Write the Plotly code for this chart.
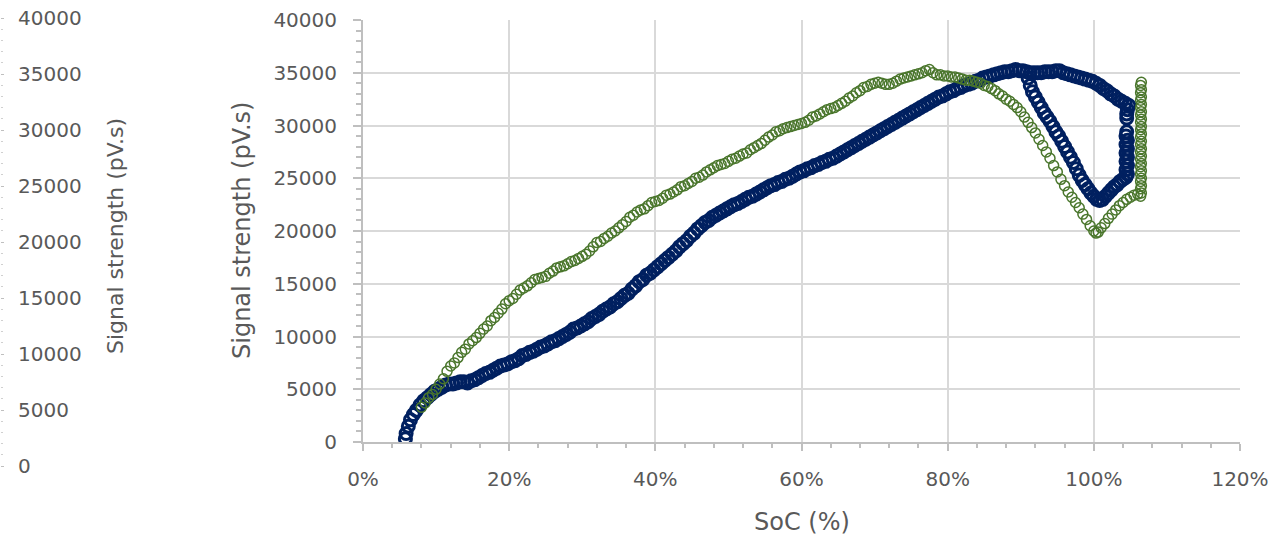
import plotly.graph_objects as go

# ---------------- data ----------------
green_rise_soc = [8.0, 8.5, 9.0, 9.5, 10.0, 10.5, 11.0, 11.5, 12.0, 12.5, 13.0, 13.5, 14.0, 14.5, 15.0, 15.5,
                  16.0, 16.5, 17.0, 17.5, 18.0, 18.5, 19.0, 19.5, 20.0, 20.5, 21.0, 21.5, 22.0, 22.5, 23.0, 23.5,
                  24.0, 24.5, 25.0, 25.5, 26.0, 26.5, 27.0, 27.5, 28.0, 28.5, 29.0, 29.5, 30.0, 30.5, 31.0, 31.5,
                  32.0, 32.5, 33.0, 33.5, 34.0, 34.5, 35.0, 35.5, 36.0, 36.5, 37.0, 37.5, 38.0, 38.5, 39.0, 39.5,
                  40.0, 40.5, 41.0, 41.5, 42.0, 42.5, 43.0, 43.5, 44.0, 44.5, 45.0, 45.5, 46.0, 46.5, 47.0, 47.5,
                  48.0, 48.5, 49.0, 49.5, 50.0, 50.5, 51.0, 51.5, 52.0, 52.5, 53.0, 53.5, 54.0, 54.5, 55.0, 55.5,
                  56.0, 56.5, 57.0, 57.5, 58.0, 58.5, 59.0, 59.5, 60.0, 60.5, 61.0, 61.5, 62.0, 62.5, 63.0, 63.5,
                  64.0, 64.5, 65.0, 65.5, 66.0, 66.5, 67.0, 67.5, 68.0, 68.5, 69.0, 69.5, 70.0, 70.5, 71.0, 71.5,
                  72.0, 72.5, 73.0, 73.5, 74.0, 74.5, 75.0, 75.5, 76.0, 76.5, 77.0]
green_rise_sig = [3300, 3700, 4200, 4500, 5000, 5500, 6000, 6700, 7200, 7500, 8000, 8500, 8800, 9300, 9600, 9900,
                  10300, 10700, 11000, 11500, 11800, 12200, 12600, 13100, 13400, 13600, 14000, 14400, 14600, 14800, 15100, 15400,
                  15500, 15600, 15700, 16000, 16200, 16500, 16600, 16700, 16900, 17100, 17200, 17400, 17600, 17800, 18100, 18500,
                  18900, 19000, 19300, 19500, 19800, 20000, 20300, 20600, 20900, 21300, 21500, 21800, 22000, 22100, 22400, 22700,
                  22800, 22900, 23100, 23400, 23500, 23700, 23900, 24200, 24300, 24500, 24700, 25000, 25100, 25300, 25600, 25800,
                  26000, 26200, 26300, 26400, 26600, 26800, 26900, 27100, 27300, 27400, 27700, 27900, 28100, 28300, 28600, 28900,
                  29100, 29400, 29500, 29700, 29800, 29900, 30000, 30100, 30200, 30300, 30500, 30800, 30900, 31100, 31300, 31500,
                  31600, 31700, 31900, 32100, 32300, 32600, 32800, 33100, 33300, 33600, 33700, 33900, 34000, 34100, 34000, 33900,
                  33900, 34000, 34200, 34400, 34500, 34600, 34700, 34800, 34900, 35000, 35200]

green_fall_soc = [77.5, 78.0, 78.5, 79.0, 79.5, 80.0, 80.5, 81.0, 81.5, 82.0, 82.5, 83.0, 83.5, 84.0, 84.5, 85.0,
                  85.5, 86.0, 86.5, 87.0, 87.5, 88.0, 88.5, 89.0, 89.5, 90.0, 90.5, 91.0, 91.5, 92.0, 92.5, 93.0,
                  93.5, 94.0, 94.5, 95.0, 95.5, 96.0, 96.5, 97.0, 97.5, 98.0, 98.5, 99.0, 99.5, 100.0, 100.3, 100.6,
                  101.0, 101.5, 102.0, 102.5, 103.0, 103.5, 104.0, 104.5, 105.0, 105.5, 106.0]
green_fall_sig = [35300, 35000, 34800, 34800, 34700, 34700, 34600, 34600, 34500, 34400, 34300, 34300, 34200, 34100, 34000, 33800,
                  33700, 33500, 33300, 33000, 32800, 32500, 32300, 32000, 31700, 31300, 30800, 30300, 29800, 29300, 28700, 28100,
                  27500, 26900, 26200, 25600, 24900, 24300, 23700, 23200, 22700, 22200, 21600, 21100, 20500, 20000, 19800, 19900,
                  20300, 20700, 21200, 21600, 22000, 22400, 22700, 23000, 23200, 23400, 23500]

green_top_soc = [106.4, 106.5, 106.4, 106.5, 106.4, 106.5, 106.4, 106.5, 106.4, 106.5, 106.4, 106.5, 106.4, 106.5, 106.4, 106.5,
                 106.4, 106.5, 106.4, 106.5, 106.4, 106.5, 106.4, 106.5, 106.4, 106.5, 106.4, 106.5, 106.4, 106.5, 106.4, 106.5]
green_top_sig = [23300, 23600, 24000, 24300, 24700, 25000, 25400, 25700, 26100, 26400, 26800, 27100, 27500, 27800, 28200, 28500,
                 28900, 29200, 29600, 29900, 30300, 30600, 31000, 31300, 31700, 32000, 32400, 32700, 33100, 33400, 33800, 34100]

navy_rise_soc = [5.8, 5.9, 6.2, 6.5, 6.9, 7.3, 7.8, 8.3, 8.8, 9.3, 9.8, 10.3, 10.8, 11.3, 11.8, 12.3, 12.8, 13.3, 13.8,
                 14.3, 14.8, 15.3, 15.8, 16.3, 16.8, 17.3, 17.8, 18.3, 18.8, 19.3, 19.8, 20.3, 20.8, 21.3, 21.8, 22.3,
                 22.8, 23.3, 23.8, 24.3, 24.8, 25.3, 25.8, 26.3, 26.8, 27.3, 27.8, 28.3, 28.8, 29.3, 29.8, 30.3, 30.8,
                 31.3, 31.8, 32.3, 32.8, 33.3, 33.8, 34.3, 34.8, 35.3, 35.8, 36.3, 36.8, 37.3, 37.8, 38.3, 38.8, 39.3,
                 39.8, 40.3, 40.8, 41.3, 41.8, 42.3, 42.8, 43.3, 43.8, 44.3, 44.8, 45.3, 45.8, 46.3, 46.8, 47.3, 47.8,
                 48.3, 48.8, 49.3, 49.8, 50.3, 50.8, 51.3, 51.8, 52.3, 52.8, 53.3, 53.8, 54.3, 54.8, 55.3, 55.8, 56.3,
                 56.8, 57.3, 57.8, 58.3, 58.8, 59.3, 59.8, 60.3, 60.8, 61.3, 61.8, 62.3, 62.8, 63.3, 63.8, 64.3, 64.8,
                 65.3, 65.8, 66.3, 66.8, 67.3, 67.8, 68.3, 68.8, 69.3, 69.8, 70.3, 70.8, 71.3, 71.8, 72.3, 72.8, 73.3,
                 73.8, 74.3, 74.8, 75.3, 75.8, 76.3, 76.8, 77.3, 77.8, 78.3, 78.8, 79.3, 79.8, 80.3, 80.8, 81.3, 81.8,
                 82.3, 82.8, 83.3, 83.8, 84.3, 84.8, 85.3, 85.8, 86.3, 86.8, 87.3, 87.8, 88.3, 88.8, 89.3, 89.8, 90.3,
                 90.8, 91.3, 91.8, 92.3, 92.8, 93.3, 93.8, 94.3, 94.8, 95.3, 95.8, 96.3, 96.8, 97.3, 97.8, 98.3, 98.8,
                 99.3, 99.8, 100.3, 100.8, 101.3, 101.8, 102.3, 102.8, 103.3, 103.8, 104.3, 104.8]
navy_rise_sig = [300, 800, 1500, 2100, 2600, 3000, 3500, 3900, 4200, 4500, 4800, 5000, 5200, 5400, 5500, 5500, 5600, 5700, 5700,
                 5600, 5800, 5900, 6100, 6300, 6500, 6600, 6800, 7000, 7200, 7300, 7400, 7600, 7700, 7900, 8200, 8300,
                 8500, 8600, 8800, 9000, 9100, 9300, 9500, 9600, 9800, 10000, 10200, 10400, 10700, 10800, 11000, 11200, 11400,
                 11700, 11900, 12100, 12400, 12600, 12800, 13100, 13300, 13600, 13900, 14100, 14500, 14800, 15200, 15400, 15800, 16000,
                 16300, 16600, 16900, 17200, 17500, 17800, 18100, 18500, 18800, 19100, 19500, 19800, 20200, 20500, 20800, 21000, 21300,
                 21500, 21700, 21900, 22100, 22300, 22500, 22600, 22800, 23000, 23200, 23300, 23500, 23700, 23900, 24100, 24300, 24400,
                 24600, 24700, 24900, 25000, 25200, 25400, 25600, 25700, 25900, 26000, 26200, 26300, 26500, 26600, 26800, 26900, 27100,
                 27300, 27500, 27700, 27900, 28100, 28300, 28500, 28700, 28900, 29100, 29300, 29500, 29700, 29900, 30100, 30300, 30500,
                 30700, 30900, 31100, 31300, 31500, 31700, 31900, 32100, 32300, 32500, 32700, 32800, 33000, 33200, 33300, 33500, 33600,
                 33800, 33900, 34000, 34200, 34300, 34500, 34600, 34700, 34800, 34900, 35000, 35100, 35100, 35200, 35300, 35200, 35200,
                 35100, 35000, 35000, 35000, 35000, 35100, 35100, 35100, 35200, 35200, 35000, 34900, 34800, 34700, 34600, 34500, 34400,
                 34300, 34200, 34000, 33800, 33500, 33300, 33000, 32800, 32500, 32300, 32100, 31900]

navy_drop_soc = [104.6, 104.5, 104.5, 104.5, 104.4, 104.6, 104.4, 104.6, 104.4, 104.6, 104.4, 104.6, 104.4, 104.6]
navy_drop_sig = [31500, 31100, 30700, 29400, 29000, 28600, 28200, 27800, 27400, 27000, 26600, 26200, 25800, 25400]

navy_dip_soc = [91.0, 91.3, 91.6, 92.0, 92.4, 92.8, 93.2, 93.6, 94.0, 94.4, 94.8, 95.2, 95.6, 96.0, 96.4, 96.8, 97.2, 97.6,
                98.0, 98.4, 98.8, 99.2, 99.6, 100.0, 100.4, 100.8, 101.2, 101.6, 102.0, 102.4, 102.8, 103.2, 103.6, 104.0, 104.4]
navy_dip_sig = [34500, 33800, 33200, 32700, 32200, 31700, 31200, 30800, 30400, 29900, 29400, 29000, 28500, 28000, 27500, 27000,
                26500, 25900, 25300, 24800, 24400, 24000, 23600, 23300, 23000, 22900, 23000, 23300, 23600, 23900, 24200, 24400,
                24700, 24900, 25100]

y_ticks = [0, 5000, 10000, 15000, 20000, 25000, 30000, 35000, 40000]
y_tick_text = ["0", "5000", "10000", "15000", "20000", "25000", "30000", "35000", "40000"]
x_ticks = [0, 20, 40, 60, 80, 100, 120]
x_tick_text = ["0%", "20%", "40%", "60%", "80%", "100%", "120%"]
y_title = "Signal strength (pV.s)"
x_title = "SoC (%)"

# ---------------- styling ----------------
NAVY = "#002060"
GREEN = "#4A762C"
TXT = "#595959"
GRID = "#d9d9d9"
AXL = "#bfbfbf"
FONT = "DejaVu Sans"

W, H = 1274, 539
ML, MR, MT, MB = 0, 34, 18, 73
PW, PH = W - ML - MR, H - MT - MB


def px_x(px):
    return (px - ML) / PW


def px_y(py):
    return (H - MB - py) / PH


navy_x = navy_rise_soc + navy_drop_soc + navy_dip_soc
navy_y = navy_rise_sig + navy_drop_sig + navy_dip_sig
green_x = green_rise_soc + green_fall_soc + green_top_soc
green_y = green_rise_sig + green_fall_sig + green_top_sig

fig = go.Figure()
fig.add_trace(go.Scatter(
    x=navy_x, y=navy_y, mode="markers", showlegend=False,
    marker=dict(symbol="circle-open", size=12, color=NAVY, line=dict(width=3, color=NAVY)),
))
fig.add_trace(go.Scatter(
    x=green_x, y=green_y, mode="markers", showlegend=False,
    marker=dict(symbol="circle-open", size=10, color=GREEN, line=dict(width=1.5, color=GREEN)),
))
# stray left axis (empty companion trace)
fig.add_trace(go.Scatter(x=[None], y=[None], xaxis="x2", yaxis="y2", showlegend=False, hoverinfo="skip"))

fig.update_layout(
    width=W, height=H,
    margin=dict(l=ML, r=MR, t=MT, b=MB, pad=0, autoexpand=False),
    paper_bgcolor="white", plot_bgcolor="white",
    font=dict(family=FONT, color=TXT, size=20),
    xaxis=dict(
        domain=[px_x(363), 1.0], range=[0, 120], tickvals=x_ticks, ticktext=x_tick_text,
        showgrid=True, gridcolor=GRID, gridwidth=2, zeroline=False,
        showline=True, linecolor=AXL, linewidth=2,
        ticks="outside", ticklen=7, tickwidth=1.5, tickcolor=AXL, ticklabelstandoff=11,
        minor=dict(ticks="outside", dtick=4, tick0=0, ticklen=4, tickwidth=1.5, tickcolor=AXL, showgrid=False),
        tickfont=dict(size=20, color=TXT, family=FONT), anchor="y", automargin=False,
    ),
    yaxis=dict(
        domain=[px_y(442), px_y(20)], range=[0, 40000], tickvals=y_ticks, ticktext=y_tick_text,
        showgrid=True, gridcolor=GRID, gridwidth=2, zeroline=False,
        showline=True, linecolor=AXL, linewidth=2,
        ticks="outside", ticklen=8, tickwidth=1.5, tickcolor=AXL, ticklabelstandoff=12,
        minor=dict(ticks="outside", dtick=1000, tick0=0, ticklen=5, tickwidth=1.5, tickcolor=AXL, showgrid=False),
        tickfont=dict(size=20, color=TXT, family=FONT), anchor="x", automargin=False,
    ),
    xaxis2=dict(domain=[0, 0.05], range=[0, 1], visible=False, anchor="y2"),
    yaxis2=dict(
        domain=[0, 1], range=[0, 40000], tickvals=y_ticks, ticktext=y_tick_text,
        anchor="free", position=0, side="right", automargin=False,
        showgrid=False, zeroline=False, showline=False,
        ticks="outside", ticklen=3, tickwidth=1.2, tickcolor=AXL, ticklabelstandoff=10,
        minor=dict(ticks="outside", dtick=1000, tick0=0, ticklen=2, tickwidth=1, tickcolor="#d0d0d0", showgrid=False),
        tickfont=dict(size=20, color=TXT, family=FONT),
    ),
    annotations=[
        dict(text=y_title, x=px_x(242), y=px_y(231), xref="paper", yref="paper", textangle=-90,
             showarrow=False, xanchor="center", yanchor="middle", font=dict(size=24, color=TXT, family=FONT)),
        dict(text=y_title, x=px_x(115), y=px_y(236), xref="paper", yref="paper", textangle=-90,
             showarrow=False, xanchor="center", yanchor="middle", font=dict(size=22, color=TXT, family=FONT)),
        dict(text=x_title, x=px_x(802), y=px_y(522), xref="paper", yref="paper",
             showarrow=False, xanchor="center", yanchor="middle", font=dict(size=24, color=TXT, family=FONT)),
    ],
)

fig.write_html("out.html", config={"displayModeBar": False},
               post_script="document.body.style.margin='0';")
